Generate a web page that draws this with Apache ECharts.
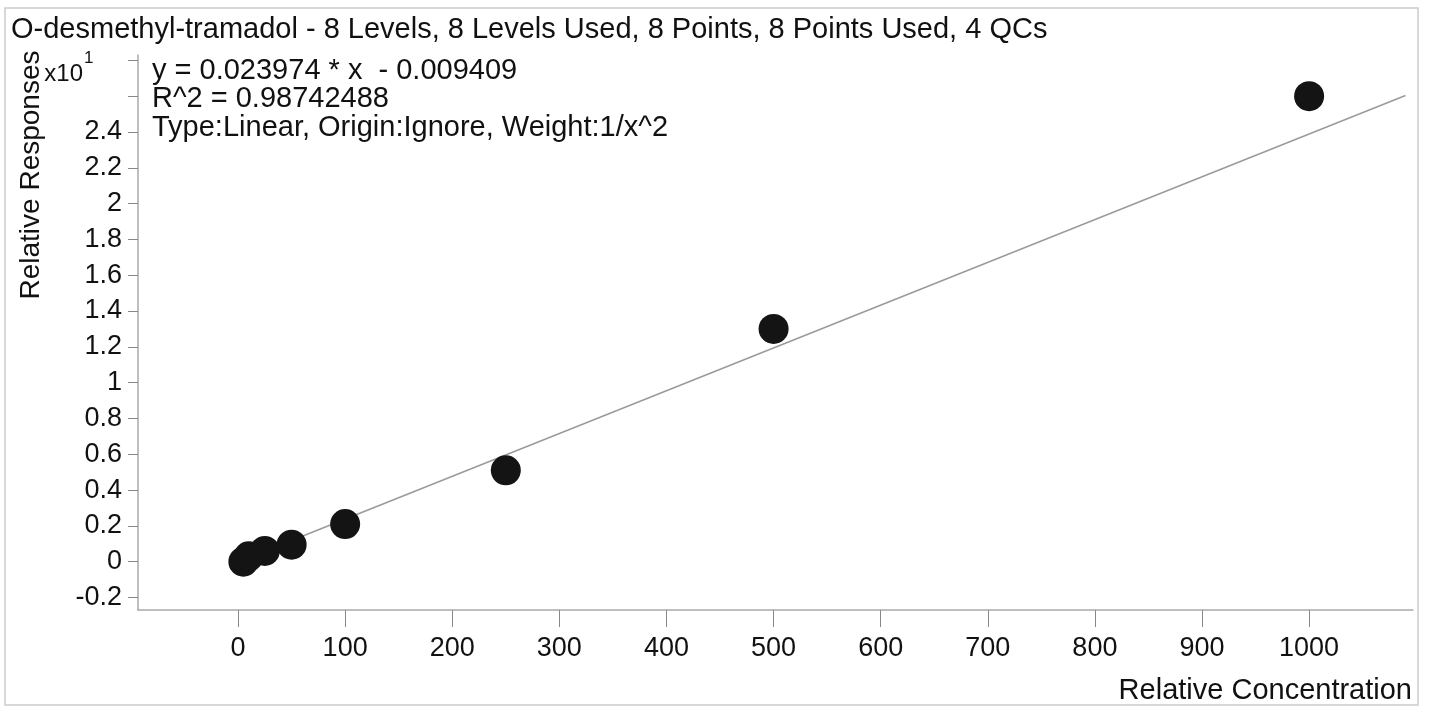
<!DOCTYPE html>
<html>
<head>
<meta charset="utf-8">
<script src="https://cdn.jsdelivr.net/npm/echarts@6/dist/echarts.min.js"></script>
<style>
  html, body { margin: 0; padding: 0; background: #fff; }
  #chart { width: 1429px; height: 708px; }
</style>
</head>
<body>
<div id="chart"></div>
<script>
// calibration points (y shown in units of x10^1)
const concentrations = [5, 10, 25, 50, 100, 250, 500, 1000]
const responses = [0.0, 0.03, 0.06, 0.095, 0.21, 0.51, 1.30, 2.60]
// fitted line endpoints
const fitLine = [[5, 0.011], [1090, 2.604]]

const xTicks = [0, 100, 200, 300, 400, 500, 600, 700, 800, 900, 1000]
const yTicks = [-0.2, 0, 0.2, 0.4, 0.6, 0.8, 1, 1.2, 1.4, 1.6, 1.8, 2, 2.2, 2.4, 2.6, 2.8]
// ticks drawn without a number
const yBlankTicks = [2.6, 2.8]

const titleText = 'O-desmethyl-tramadol - 8 Levels, 8 Levels Used, 8 Points, 8 Points Used, 4 QCs'
const infoLines = [
  'y = 0.023974 * x  - 0.009409',
  'R^2 = 0.98742488',
  'Type:Linear, Origin:Ignore, Weight:1/x^2'
]

const font = 'Liberation Sans, Arial, sans-serif'
const textFs = 29
const tickFs = 27
const nameFs = 28

const chart = echarts.init(document.getElementById('chart'))

const points = concentrations.map((x, i) => [x, responses[i]])

const plainText = (text, x, y, size, align) => ({
  type: 'text',
  x: x,
  y: y,
  style: { text: text, font: size + 'px ' + font, fill: '#111', align: align || 'left', verticalAlign: 'middle' }
})

chart.setOption({
  animation: false,
  backgroundColor: '#fff',
  textStyle: { fontFamily: font },
  grid: { left: 138, right: 16, top: 55, bottom: 98 },
  xAxis: {
    type: 'value',
    min: -93.4,
    max: 1097,
    splitLine: { show: false },
    axisLine: { onZero: false, lineStyle: { color: '#aaa', width: 1.5 } },
    axisTick: { show: true, length: 17, customValues: xTicks, lineStyle: { color: '#888' } },
    axisLabel: {
      customValues: xTicks,
      margin: 25,
      fontSize: tickFs,
      color: '#111',
      fontFamily: font,
      formatter: (v) => String(v)
    }
  },
  yAxis: {
    type: 'value',
    min: -0.27,
    max: 2.83,
    splitLine: { show: false },
    axisLine: { show: true, onZero: false, lineStyle: { color: '#aaa', width: 1.5 } },
    axisTick: { show: true, length: 10, customValues: yTicks, lineStyle: { color: '#888' } },
    axisLabel: {
      customValues: yTicks,
      margin: 16,
      fontSize: tickFs,
      color: '#111',
      fontFamily: font,
      padding: [10, 0, 0, 0],
      formatter: function (v) {
        if (yBlankTicks.some((b) => Math.abs(v - b) < 1e-6)) return ''
        return String(Math.round(v * 10) / 10)
      }
    }
  },
  graphic: [
    {
      type: 'rect',
      shape: { x: 5, y: 8, width: 1413, height: 697 },
      style: { fill: 'none', stroke: '#ccc', lineWidth: 1.5 },
      silent: true
    },
    plainText(titleText, 11, 30, textFs),
    plainText(infoLines[0], 152, 71, textFs),
    plainText(infoLines[1], 152, 99, textFs),
    plainText(infoLines[2], 152, 128, textFs),
    plainText('x10', 83, 74, 24, 'right'),
    plainText('1', 84, 58, 17),
    plainText('Relative Concentration', 1412, 691, nameFs + 1, 'right'),
    {
      type: 'text',
      x: 31, y: 175,
      rotation: Math.PI / 2,
      style: { text: 'Relative Responses', font: nameFs + 'px ' + font, fill: '#111', align: 'center', verticalAlign: 'middle' }
    }
  ],
  series: [
    {
      type: 'line',
      data: fitLine,
      symbol: 'none',
      lineStyle: { color: '#9a9a9a', width: 1.5 },
      z: 1
    },
    {
      type: 'scatter',
      data: points,
      symbolSize: 30,
      itemStyle: { color: '#141414', opacity: 1 },
      z: 2
    }
  ]
})
</script>
</body>
</html>
